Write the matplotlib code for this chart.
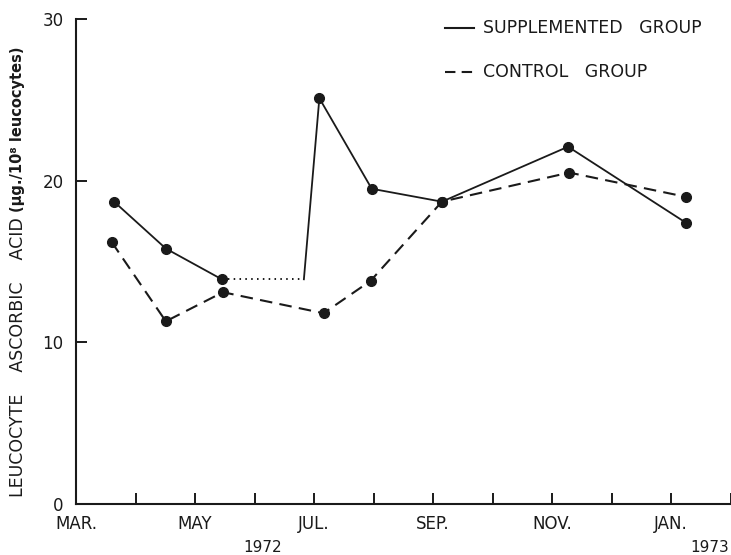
import numpy as np
import matplotlib
matplotlib.use("Agg")
import matplotlib.pyplot as plt

# months counted from 1 March 1972
month_ticks = list(range(12))
month_labels = ["MAR.", "", "MAY", "", "JUL.", "", "SEP.", "", "NOV.", "", "JAN.", ""]
y_ticks = [0, 10, 20, 30]

# supplemented group
supp_x = [0.64, 1.51, 2.45, 4.09, 4.97, 6.15, 8.27, 10.25]
supp_y = [18.7, 15.8, 13.9, 25.1, 19.5, 18.7, 22.1, 17.4]
# gap in the supplemented series (dotted bridge, then solid rise)
gap_x = [2.45, 3.83]
gap_y = [13.9, 13.9]

# control group
ctrl_x = [0.60, 1.51, 2.47, 4.16, 4.95, 6.15, 8.29, 10.25]
ctrl_y = [16.2, 11.3, 13.1, 11.8, 13.8, 18.7, 20.5, 19.0]

W, H = 731, 555
fig = plt.figure(figsize=(W / 100, H / 100), dpi=100)
ax = fig.add_axes([76 / W, 1 - 504 / H, (W - 76) / W, (504 - 19) / H])

k = "#1a1a1a"
# supplemented: first three points, dotted bridge, then the rest
ax.plot(supp_x[:3], supp_y[:3], color=k, lw=1.3, marker="o", ms=7)
ax.plot(gap_x, gap_y, color=k, lw=1.4, ls=(0, (0.8, 2.2)))
ax.plot([gap_x[1]] + supp_x[3:], [gap_y[1]] + supp_y[3:], color=k, lw=1.3)
ax.plot(supp_x[3:], supp_y[3:], color=k, lw=0, marker="o", ms=7)

ax.plot(ctrl_x, ctrl_y, color=k, lw=1.5, dashes=(6, 3.5), marker="o", ms=7)

ax.set_xlim(0, (W - 76) / 59.5)
ax.set_ylim(0, 30)
for s in ["top", "right"]:
    ax.spines[s].set_visible(False)
for s in ["left", "bottom"]:
    ax.spines[s].set_linewidth(1.5)
    ax.spines[s].set_color(k)

ax.set_xticks(month_ticks)
ax.set_xticklabels(month_labels)
ax.set_yticks(y_ticks)
ax.tick_params(axis="both", direction="in", length=8, width=1.4, colors=k,
               labelsize=12)
ax.tick_params(axis="x", pad=8)
ax.tick_params(axis="y", pad=9)

fig.text(263 / W, 1 - 547 / H, "1972", ha="center", va="center", fontsize=11, color=k)
fig.text(729 / W, 1 - 547 / H, "1973", ha="right", va="center", fontsize=11, color=k)

fig.text(18 / W, 1 - 497 / H, "LEUCOCYTE    ASCORBIC    ACID", rotation=90,
         ha="center", va="bottom", fontsize=12.5, color=k)
fig.text(18 / W, 1 - 212 / H, "(\u03bcg./10\u2078 leucocytes)", rotation=90,
         ha="center", va="bottom", fontsize=10.5, color=k, fontweight="bold")

# legend
fig.add_artist(plt.Line2D([445 / W, 474 / W], [1 - 28 / H] * 2, color=k, lw=1.5))
fig.add_artist(plt.Line2D([445 / W, 476 / W], [1 - 72 / H] * 2, color=k, lw=1.5,
                          dashes=(5, 3)))
fig.text(483 / W, 1 - 28 / H, "SUPPLEMENTED   GROUP", ha="left", va="center",
         fontsize=12.5, color=k)
fig.text(483 / W, 1 - 72 / H, "CONTROL   GROUP", ha="left", va="center",
         fontsize=12.5, color=k)

fig.savefig("out.png", dpi=100, facecolor="white")
